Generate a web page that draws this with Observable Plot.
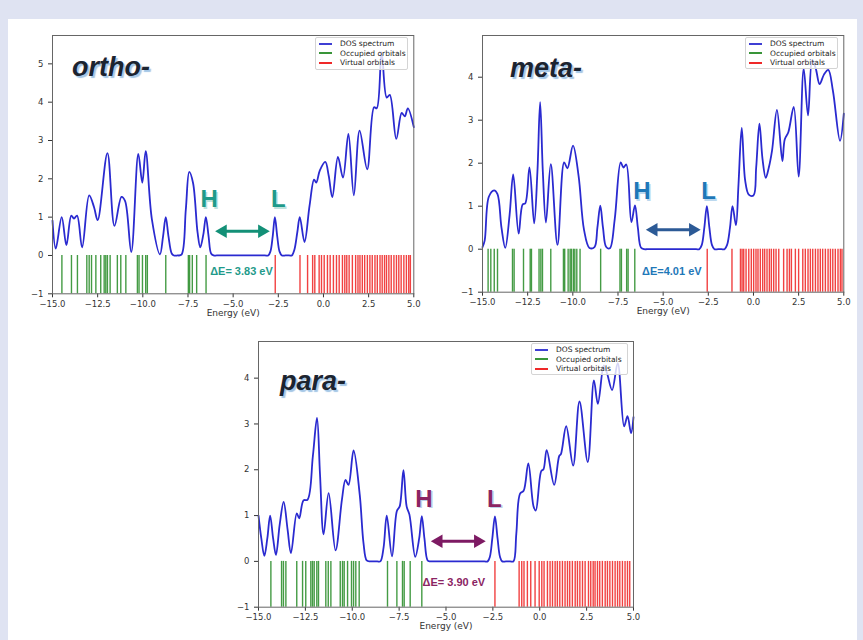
<!DOCTYPE html>
<html>
<head>
<meta charset="utf-8">
<script src="https://cdn.jsdelivr.net/npm/d3@7"></script>
<script src="https://cdn.jsdelivr.net/npm/@observablehq/plot@0.6"></script>
<style>
html,body{margin:0;padding:0;background:#dfe3f2;}
#page{position:relative;width:863px;height:640px;overflow:hidden;background:#dfe3f2;}
#sheet{position:absolute;left:8px;top:19px;width:849px;height:621px;background:#fff;}
.chart{position:absolute;}
.title{position:absolute;font:italic bold 27px/27px "Liberation Sans",Arial,sans-serif;color:#1c2430;text-shadow:2px 2px 1px #a3c6e6;white-space:nowrap;}
.legend{position:absolute;box-sizing:border-box;background:rgba(255,255,255,0.8);border:1px solid #d4d4d4;border-radius:2px;font:7.5px "DejaVu Sans",sans-serif;color:#222;padding-top:1px;}
.legend .row{height:9.6px;display:flex;align-items:center;white-space:nowrap;}
.legend svg{margin:0 8px 0 3px;flex:none;}
</style>
</head>
<body>
<div id="page"><div id="sheet"></div></div>
<script>
// ---------------- DATA ----------------
const xTicks = [-15, -12.5, -10, -7.5, -5, -2.5, 0, 2.5, 5];
const orthoYTicks = [-1, 0, 1, 2, 3, 4, 5];
const metaYTicks = [-1, 0, 1, 2, 3, 4];
const paraYTicks = [-1, 0, 1, 2, 3, 4];
const legendLabels = ["DOS spectrum", "Occupied orbitals", "Virtual orbitals"];
const panelNames = ["ortho-", "meta-", "para-"];
const gapLabels = ["ΔE= 3.83 eV", "ΔE=4.01 eV", "ΔE= 3.90 eV"];
const homoLumoLabels = ["H", "L"];

// DOS spectrum [energy eV, DOS]
const orthoDos = [[-15,0.91],[-14.82,0.18],[-14.49,1.0],[-14.23,0.27],[-13.96,1.04],[-13.81,0.96],[-13.64,1.04],[-13.36,0.21],[-12.97,1.57],[-12.7,1.26],[-12.5,0.92],[-11.96,2.67],[-11.57,0.77],[-11.18,1.53],[-10.98,1.42],[-10.64,0.09],[-10.25,2.65],[-10.03,1.9],[-9.84,2.72],[-9.5,0.95],[-9.05,0.03],[-8.88,0.5],[-8.73,1.0],[-8.58,0.5],[-8.4,0.05],[-8.28,0],[-8.08,0],[-7.86,0.02],[-7.62,1.2],[-7.43,2.18],[-7.22,1.89],[-6.97,0.6],[-6.82,0.21],[-6.65,0.55],[-6.51,1.0],[-6.36,0.5],[-6.22,0.05],[-6.08,0],[-5.9,0],[-4.5,0],[-3.25,0],[-3.06,0],[-2.94,0.1],[-2.81,0.5],[-2.69,1.0],[-2.56,0.5],[-2.43,0.1],[-2.3,0],[-2.1,0],[-1.9,0],[-1.75,0],[-1.61,0.15],[-1.45,0.6],[-1.31,1.0],[-1.05,0.35],[-0.77,1.3],[-0.52,1.98],[-0.4,1.9],[-0.2,2.22],[0.1,2.44],[0.29,2.08],[0.49,1.52],[0.8,2.57],[1.08,2.03],[1.38,3.17],[1.68,1.57],[2.0,3.26],[2.42,2.25],[2.8,3.87],[2.95,3.84],[3.22,5.3],[3.5,4.12],[3.67,4.19],[4.03,3.04],[4.33,3.72],[4.5,3.63],[4.67,3.84],[5.0,3.35]];
const metaDos = [[-15,0.05],[-14.88,0.2],[-14.65,1.22],[-14.36,1.37],[-14.17,1.28],[-13.95,0.5],[-13.74,0.03],[-13.5,0.8],[-13.3,1.74],[-13.0,0.36],[-12.78,1.04],[-12.63,1.07],[-12.4,1.9],[-12.14,0.6],[-11.96,1.8],[-11.81,3.42],[-11.66,1.8],[-11.49,0.62],[-11.22,1.98],[-10.85,0.1],[-10.48,2.02],[-10.3,1.88],[-9.99,2.41],[-9.68,1.7],[-9.38,0.45],[-9.08,0.03],[-8.8,0.05],[-8.64,0.5],[-8.48,1.01],[-8.33,0.5],[-8.15,0.05],[-7.95,0.02],[-7.68,0.7],[-7.35,2.02],[-7.2,1.9],[-7.04,1.97],[-6.76,0.63],[-6.56,1.02],[-6.4,0.5],[-6.23,0.04],[-6.05,0],[-5.88,0],[-4.5,0],[-3.18,0],[-3.0,0],[-2.86,0.1],[-2.72,0.5],[-2.58,1.0],[-2.44,0.5],[-2.3,0.1],[-2.16,0],[-1.96,0],[-1.77,0],[-1.6,0],[-1.46,0.1],[-1.3,0.5],[-1.16,1.0],[-0.97,0.56],[-0.83,1.5],[-0.65,2.82],[-0.46,1.6],[-0.26,1.27],[0.0,1.25],[0.15,1.9],[0.33,2.92],[0.5,2.1],[0.68,1.66],[0.85,1.9],[1.03,2.3],[1.3,3.24],[1.6,2.05],[1.73,2.55],[1.93,2.72],[2.23,3.31],[2.5,1.69],[2.78,4.2],[3.02,3.11],[3.25,4.4],[3.45,4.2],[3.66,3.84],[3.9,4.06],[4.14,4.17],[4.4,3.68],[4.79,2.52],[5.0,3.15]];
const paraDos = [[-15,1.0],[-14.85,0.5],[-14.69,0.12],[-14.53,0.5],[-14.38,1.0],[-14.22,0.5],[-14.07,0.14],[-13.87,0.8],[-13.66,1.3],[-13.45,0.7],[-13.27,0.18],[-12.96,1.05],[-12.83,0.94],[-12.6,1.33],[-12.38,1.35],[-12.1,2.3],[-11.88,3.13],[-11.72,1.9],[-11.53,0.59],[-11.26,1.49],[-10.89,0.24],[-10.55,1.35],[-10.36,1.78],[-10.2,1.67],[-9.93,2.42],[-9.6,1.45],[-9.4,0.4],[-9.23,0.02],[-9.05,0],[-8.85,0],[-8.66,0],[-8.5,0],[-8.33,0.3],[-8.16,1.0],[-7.88,0.11],[-7.62,1.1],[-7.47,1.2],[-7.27,1.99],[-7.1,1.2],[-6.95,1.02],[-6.64,0.1],[-6.43,0.5],[-6.29,0.99],[-6.15,0.5],[-5.98,0.02],[-5.85,0],[-5.68,0],[-4.3,0],[-2.95,0],[-2.78,0],[-2.66,0.1],[-2.53,0.5],[-2.39,0.98],[-2.25,0.5],[-2.12,0.1],[-2.0,0],[-1.8,0],[-1.58,0],[-1.4,0],[-1.25,0.6],[-1.05,1.48],[-0.86,1.54],[-0.61,2.14],[-0.33,1.2],[-0.21,1.11],[0.08,1.97],[0.2,2.01],[0.37,2.43],[0.77,1.67],[1.04,2.3],[1.13,2.34],[1.41,2.95],[1.78,2.09],[2.12,3.49],[2.56,2.17],[2.89,3.95],[3.1,3.44],[3.42,4.28],[3.6,4.09],[3.86,3.74],[4.16,4.33],[4.5,2.95],[4.68,3.17],[4.87,2.8],[5.0,3.15]];

// orbital energies (eV)
const orthoOccupied = [-14.48,-13.95,-13.62,-13.1,-12.97,-12.84,-12.6,-12.33,-12.14,-12.05,-11.96,-11.81,-11.41,-11.22,-10.94,-10.3,-10.21,-10.02,-9.84,-9.75,-8.73,-7.48,-7.41,-7.26,-7.02,-6.5];
const orthoVirtual = [-2.67,-1.3,-0.88,-0.6,-0.48,-0.24,-0.11,0.04,0.22,0.37,0.55,0.72,0.87,1.05,1.18,1.29,1.42,1.6,1.78,1.91,2.02,2.15,2.28,2.43,2.57,2.7,2.85,2.98,3.13,3.25,3.38,3.49,3.62,3.75,3.9,4.04,4.17,4.3,4.45,4.59,4.72,4.81];
const metaOccupied = [-14.69,-14.54,-14.35,-14.17,-13.34,-13.25,-12.73,-12.36,-12.29,-11.87,-11.77,-11.68,-11.22,-10.52,-10.45,-10.26,-10.15,-10.08,-9.97,-9.89,-9.78,-9.6,-8.46,-7.39,-7.31,-7.02,-6.94,-6.57];
const metaVirtual = [-2.56,-1.19,-0.72,-0.63,-0.54,-0.41,-0.26,-0.12,0.01,0.14,0.25,0.38,0.51,0.62,0.75,0.88,0.99,1.12,1.25,1.4,1.67,1.86,1.99,2.1,2.32,2.5,2.73,2.87,3.02,3.15,3.28,3.43,3.57,3.7,3.83,3.98,4.13,4.26,4.39,4.53,4.68,4.81,4.9];
const paraOccupied = [-14.34,-13.77,-13.67,-13.54,-12.96,-12.65,-12.48,-12.21,-12.12,-12.03,-11.89,-11.8,-11.41,-11.28,-11.14,-10.64,-10.52,-10.43,-10.25,-10.04,-9.93,-9.81,-9.63,-8.12,-7.62,-7.32,-7.23,-6.91,-6.29];
const paraVirtual = [-2.39,-1.1,-0.96,-0.84,-0.66,-0.48,-0.25,-0.03,0.11,0.23,0.41,0.55,0.68,0.82,0.94,1.07,1.21,1.35,1.48,1.6,1.74,1.89,2.01,2.14,2.28,2.42,2.6,2.72,2.85,2.95,3.08,3.2,3.34,3.49,3.61,3.74,3.88,4.02,4.15,4.27,4.41,4.55,4.68,4.8];

// ---------------- LAYOUT / STYLE ----------------
const panels = [
  {name: panelNames[0], dos: orthoDos, occ: orthoOccupied, virt: orthoVirtual, yTicks: orthoYTicks, ymax: 5.74,
   frame: [51.7, 35, 413, 293.3], color: "#1f9a8a", arrowColor: "#139077", shadow: "#bfe2dc",
   hl: [[-6.33, 1.46], [-2.50, 1.46]], arrow: [-6.0, -2.97, 0.63], gap: [-4.54, -0.41],
   title: [72, 53.9], legend: [315, 37, 93, 33]},
  {name: panelNames[1], dos: metaDos, occ: metaOccupied, virt: metaVirtual, yTicks: metaYTicks, ymax: 4.97,
   frame: [481.7, 35, 843, 291.7], color: "#1f78b8", arrowColor: "#2c5a96", shadow: "#bcd8ee",
   hl: [[-6.18, 1.34], [-2.48, 1.34]], arrow: [-5.96, -2.92, 0.45], gap: [-4.52, -0.51],
   title: [510, 54.5], legend: [745, 37, 93, 32]},
  {name: panelNames[2], dos: paraDos, occ: paraOccupied, virt: paraVirtual, yTicks: paraYTicks, ymax: 4.8,
   frame: [257.7, 341, 632.7, 606.7], color: "#8b2463", arrowColor: "#7d1a63", shadow: "#bcd2e8",
   hl: [[-6.18, 1.36], [-2.42, 1.36]], arrow: [-5.81, -2.88, 0.44], gap: [-4.58, -0.46],
   title: [280, 368.2], legend: [531, 343, 97, 32]}
];
const lineColors = ["#2a2ad0", "#238a23", "#ee1111"];
const page = document.getElementById("page");
const M = {left: 45, right: 6, top: 6, bottom: 32};
const hlFont = "Liberation Sans, Arial, sans-serif";

panels.forEach((p, i) => {
  const [fx0, fy0, fx1, fy1] = p.frame;
  const chart = Plot.plot({
    width: (fx1 - fx0) + M.left + M.right,
    height: (fy1 - fy0) + M.top + M.bottom,
    marginLeft: M.left, marginRight: M.right, marginTop: M.top, marginBottom: M.bottom,
    style: {fontFamily: "DejaVu Sans, sans-serif", fontSize: "8.5px", color: "#333", background: "transparent", overflow: "visible"},
    x: {domain: [-15, 5], ticks: xTicks, tickFormat: d3.format(".1f"), label: null, tickSize: 4, tickPadding: 3},
    y: {domain: [-1, p.ymax], ticks: p.yTicks, tickFormat: d3.format("d"), label: null, tickSize: 4, tickPadding: 5},
    marks: [
      Plot.ruleX(p.occ, {x: d => d, y1: 0, y2: -1, stroke: lineColors[1], strokeWidth: 1.4, strokeOpacity: 0.85}),
      Plot.ruleX(p.virt, {x: d => d, y1: 0, y2: -1, stroke: lineColors[2], strokeWidth: 1.4, strokeOpacity: 0.8}),
      Plot.line(p.dos, {x: d => d[0], y: d => d[1], stroke: lineColors[0], strokeWidth: 1.8, curve: "catmull-rom"}),
      // double arrow
      Plot.ruleY([p.arrow[2]], {x1: p.arrow[0], x2: p.arrow[1], stroke: p.arrowColor, strokeWidth: 3, insetLeft: 10, insetRight: 10}),
      Plot.dot([p.arrow[0]], {x: d => d, y: () => p.arrow[2], symbol: "triangle", r: 5, rotate: -90, dx: 7.8, fill: p.arrowColor, stroke: "none"}),
      Plot.dot([p.arrow[1]], {x: d => d, y: () => p.arrow[2], symbol: "triangle", r: 5, rotate: 90, dx: -7.8, fill: p.arrowColor, stroke: "none"}),
      // H / L labels with shadow
      Plot.text(p.hl, {x: d => d[0], y: d => d[1], text: (d, j) => homoLumoLabels[j], fill: p.shadow, dx: 1.5, dy: 1.5, fontSize: 24, fontWeight: "bold", fontFamily: hlFont}),
      Plot.text(p.hl, {x: d => d[0], y: d => d[1], text: (d, j) => homoLumoLabels[j], fill: p.color, fontSize: 24, fontWeight: "bold", fontFamily: hlFont}),
      Plot.text([gapLabels[i]], {x: () => p.gap[0], y: () => p.gap[1], text: d => d, fill: p.color, fontSize: 11, fontWeight: "bold", fontFamily: hlFont}),
      Plot.text(["Energy (eV)"], {frameAnchor: "bottom", dy: 22, text: d => d, fill: "#333", fontSize: 9}),
      Plot.frame({stroke: "#666", strokeWidth: 1})
    ]
  });
  chart.classList.add("chart");
  chart.style.left = (fx0 - M.left) + "px";
  chart.style.top = (fy0 - M.top) + "px";
  page.appendChild(chart);

  // title
  const t = document.createElement("div");
  t.className = "title";
  t.textContent = p.name;
  t.style.left = p.title[0] + "px";
  t.style.top = p.title[1] + "px";
  page.appendChild(t);

  // legend
  const lg = document.createElement("div");
  lg.className = "legend";
  lg.style.left = p.legend[0] + "px";
  lg.style.top = p.legend[1] + "px";
  lg.style.width = p.legend[2] + "px";
  lg.style.height = p.legend[3] + "px";
  legendLabels.forEach((lab, k) => {
    const row = document.createElement("div");
    row.className = "row";
    const sw = document.createElementNS("http://www.w3.org/2000/svg", "svg");
    sw.setAttribute("width", "13");
    sw.setAttribute("height", "4");
    const ln = document.createElementNS("http://www.w3.org/2000/svg", "line");
    ln.setAttribute("x1", "0"); ln.setAttribute("x2", "13");
    ln.setAttribute("y1", "2"); ln.setAttribute("y2", "2");
    ln.setAttribute("stroke", lineColors[k]);
    ln.setAttribute("stroke-width", "1.8");
    sw.appendChild(ln);
    row.appendChild(sw);
    row.appendChild(document.createTextNode(lab));
    lg.appendChild(row);
  });
  page.appendChild(lg);
});
</script>
</body>
</html>
